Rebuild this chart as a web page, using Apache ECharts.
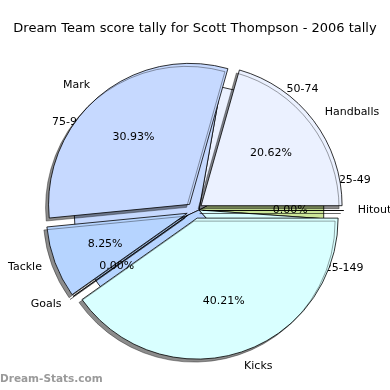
<!DOCTYPE html>
<html><head><meta charset="utf-8">
<script src="https://cdn.jsdelivr.net/npm/echarts@6/dist/echarts.min.js"></script>
<style>html,body{margin:0;padding:0;background:#fff}#c{width:390px;height:390px}</style>
</head><body><div id="c"></div>
<script>
// Main chart data (counter-clockwise from 3 o'clock)
const categories = ['Hitouts', 'Handballs', 'Mark', 'Tackle', 'Goals', 'Kicks'];
const tallies = [0, 20, 30, 8, 0, 39];
const sliceColors = ['#cce699', '#ebf1ff', '#c6d9ff', '#b6d4ff', '#cfe3ff', '#d9ffff'];
// Partly hidden chart drawn underneath (score ranges)
const rangeLabels = ['25-49', '50-74', '75-99', '100-124', '125-149'];
const rangeValues = [32, 52, 125, 107, 44];
const rangeColors = ['#cce699', '#ebf1ff', '#c6d9ff', '#b6d4ff', '#d9ffff'];
const titleText = 'Dream Team score tally for Scott Thompson - 2006 tally';
const watermark = 'Dream-Stats.com';

const FONT = 'DejaVu Sans';
const total = tallies.reduce((a, b) => a + b, 0);
const R = 141;
const C = [194.7, 210.5];
// label distance tweaks for the underlying chart
const rangeLabelGap = { '25-49': 18, '50-74': 24, '75-99': 20, '100-124': 18, '125-149': 7 };

const mainData = categories.map((n, i) => ({
  name: n, value: tallies[i], selected: true,
  itemStyle: { color: sliceColors[i] }
}));
const pctData = categories.map((n, i) => ({ name: n, value: tallies[i], selected: true }));
const rangeData = rangeLabels.map((n, i) => ({
  name: n, value: rangeValues[i],
  itemStyle: { color: rangeColors[i] },
  label: { show: n !== '100-124' },
  labelLine: { show: false, length: rangeLabelGap[n], length2: 0 }
}));

const chart = echarts.init(document.getElementById('c'), null, { renderer: 'canvas' });
chart.setOption({
  animation: false,
  backgroundColor: '#fff',
  title: {
    text: titleText, left: 'center', top: 17,
    textStyle: { fontFamily: FONT, fontSize: 13, fontWeight: 'normal', color: '#000' }
  },
  graphic: [{
    type: 'text', left: 0, top: 374, z: 10,
    style: { text: watermark, font: 'bold 10.5px "DejaVu Sans"', fill: '#9a9a9a' }
  }],
  series: [
    {
      type: 'pie', z: 1, silent: true,
      center: [199, 210], radius: 125,
      startAngle: -4, clockwise: false,
      avoidLabelOverlap: false,
      data: rangeData,
      itemStyle: { borderColor: '#000', borderWidth: 0.8 },
      label: { position: 'outside', formatter: '{b}', fontFamily: FONT, fontSize: 11, color: '#000', distanceToLabelLine: 0 },
      labelLine: { show: false, length: 18, length2: 0 },
      emphasis: { disabled: true }
    },
    {
      type: 'pie', z: 3, silent: true,
      center: C, radius: R,
      startAngle: 0, clockwise: false,
      selectedMode: 'multiple', selectedOffset: 8,
      avoidLabelOverlap: false,
      data: mainData,
      itemStyle: {
        borderColor: '#000', borderWidth: 0.8,
        shadowBlur: 0, shadowOffsetX: -3, shadowOffsetY: 3, shadowColor: 'rgba(0,0,0,0.45)'
      },
      select: { itemStyle: { borderColor: '#000', borderWidth: 0.8 } },
      label: { position: 'outside', formatter: '{b}', fontFamily: FONT, fontSize: 11, color: '#000', distanceToLabelLine: 0 },
      labelLine: { show: false, length: 14, length2: 0 },
      emphasis: { disabled: true }
    },
    {
      type: 'pie', z: 4, silent: true,
      center: C, radius: R * 0.6 * 2,
      startAngle: 0, clockwise: false,
      selectedMode: 'multiple', selectedOffset: 8,
      avoidLabelOverlap: false,
      data: pctData,
      itemStyle: { color: 'rgba(0,0,0,0)', borderWidth: 0 },
      select: { itemStyle: { color: 'rgba(0,0,0,0)', borderWidth: 0 } },
      label: {
        position: 'inside', fontFamily: FONT, fontSize: 11, color: '#000',
        formatter: p => (p.value / total * 100).toFixed(2) + '%'
      },
      labelLine: { show: false },
      emphasis: { disabled: true }
    }
  ]
});
</script></body></html>
